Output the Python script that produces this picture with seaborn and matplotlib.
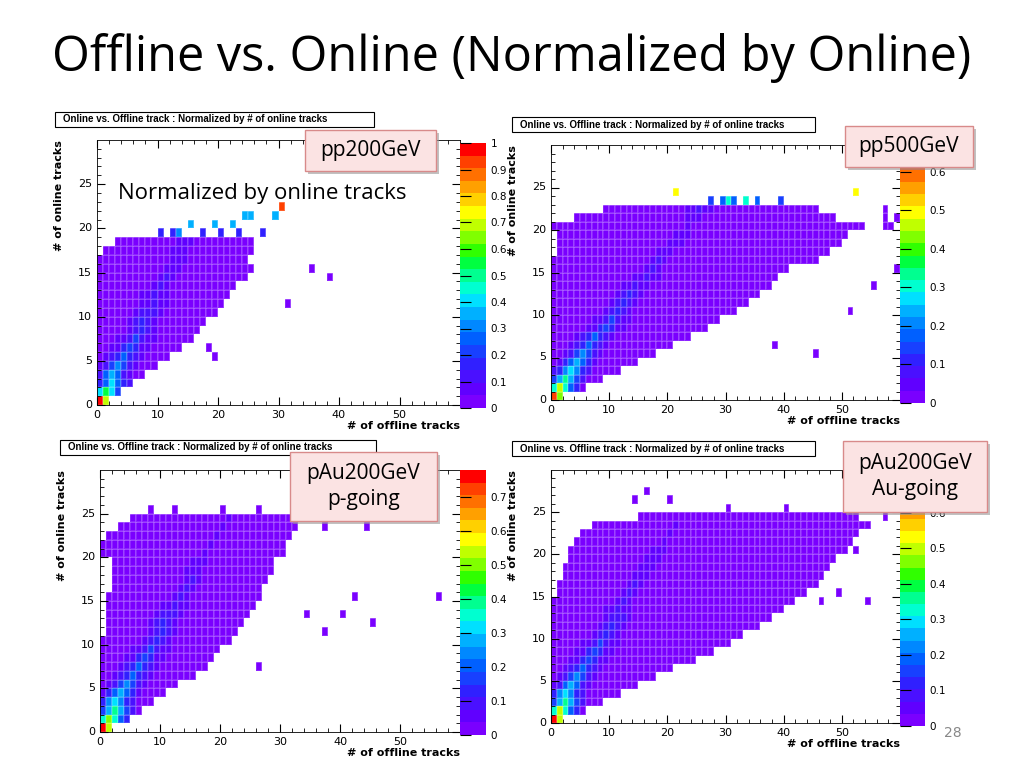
import numpy as np
import matplotlib
matplotlib.use("Agg")
import matplotlib.pyplot as plt
from matplotlib.colors import ListedColormap
from matplotlib.patches import FancyBboxPatch
import seaborn as sns

# per online-row (0,1,2,...) : first / last offline bin filled, peak bin, peak value
pp200_lo = [0, 0, 0, 0, 0, 0, 0, 0, 0, 0, 0, 0, 0, 0, 0, 0, 0, 1, 3]
pp200_hi = [1, 3, 5, 7, 9, 11, 13, 15, 16, 17, 19, 20, 21, 22, 24, 25, 24, 25, 25]
pp200_pk = [0, 1, 2, 2, 3, 4, 5, 6, 7, 7, 8, 9, 9, 10, 11, 12, 13, 13, 14]
pp200_pv = [1.0, .55, .4, .35, .3, .25, .22, .2, .18, .16, .14, .13, .12, .11, .1, .09, .08, .08, .07]
pp200_extra = [(10, 19, .15), (12, 19, .15), (13, 19, .3), (17, 19, .15), (20, 19, .15),
               (23, 19, .15), (27, 19, .15), (15, 20, .35), (19, 20, .35), (22, 20, .35),
               (24, 21, .35), (25, 21, .35), (29, 21, .35), (30, 22, .95),
               (35, 15, .03), (38, 14, .03), (31, 11, .03), (18, 6, .03), (19, 5, .03)]

pp500_lo = [0, 0, 0, 0, 0, 0, 0, 0, 0, 0, 0, 0, 0, 0, 0, 0, 0, 1, 1, 1, 0, 4, 9]
pp500_hi = [1, 5, 8, 11, 14, 17, 20, 23, 26, 28, 31, 33, 35, 37, 38, 40, 45, 47, 49, 50, 53, 48, 45]
pp500_pk = [0, 1, 2, 3, 4, 5, 6, 7, 9, 10, 11, 12, 13, 14, 16, 17, 18, 19, 21, 22, 23, 24, 25]
pp500_pv = [.62, .45, .33, .28, .24, .2, .18, .16, .15, .13, .12, .1, .1, .09, .08, .07, .07, .06, .05, .05, .04, .06, .08]
pp500_extra = [(27, 23, .15), (29, 23, .18), (30, 23, .3), (31, 23, .18), (33, 23, .3),
               (35, 23, .18), (39, 23, .15), (21, 24, .48), (52, 24, .48),
               (59, 15, .03), (55, 13, .03), (51, 10, .03), (38, 6, .03), (45, 5, .03),
               (57, 20, .03), (58, 20, .03), (57, 21, .03), (59, 21, .03), (57, 22, .03)]

pau_p_lo = [0, 0, 0, 0, 0, 0, 0, 0, 0, 0, 0, 1, 1, 1, 1, 1, 2, 2, 2, 2, 0, 0, 1, 3, 5]
pau_p_hi = [1, 4, 6, 8, 10, 12, 15, 17, 18, 19, 21, 22, 23, 24, 25, 26, 26, 27, 28, 28, 30, 30, 31, 32, 32]
pau_p_pk = [0, 1, 2, 2, 3, 4, 5, 6, 7, 8, 9, 10, 10, 11, 12, 13, 14, 15, 15, 16, 17, 18, 19, 20, 21]
pau_p_pv = [.78, .5, .4, .33, .28, .24, .21, .19, .17, .15, .14, .13, .12, .11, .1, .09, .08, .08, .07, .06, .05, .05, .04, .04, .04]
pau_p_extra = [(8, 25, .03), (12, 25, .03), (20, 25, .03), (26, 25, .03), (33, 25, .03),
               (44, 26, .03), (46, 26, .03), (44, 23, .03), (37, 23, .03),
               (42, 15, .03), (56, 15, .03), (40, 13, .03), (45, 12, .03), (37, 11, .03),
               (34, 13, .03), (26, 7, .03)]

pau_au_lo = [0, 0, 0, 0, 0, 0, 0, 0, 0, 0, 0, 0, 0, 0, 0, 1, 1, 2, 2, 3, 3, 4, 5, 7, 15]
pau_au_hi = [1, 5, 8, 11, 14, 17, 20, 24, 27, 30, 32, 35, 37, 39, 41, 43, 45, 46, 47, 48, 50, 51, 52, 54, 52]
pau_au_pk = [0, 1, 2, 2, 3, 4, 5, 6, 7, 8, 9, 10, 11, 11, 12, 13, 14, 15, 16, 17, 18, 19, 20, 21, 22]
pau_au_pv = [.72, .48, .36, .3, .25, .22, .19, .17, .15, .14, .12, .11, .1, .09, .08, .08, .07, .06, .06, .05, .05, .04, .04, .04, .03]
pau_au_extra = [(58, 25, .03), (55, 25, .03), (40, 25, .03), (30, 25, .03), (16, 27, .03),
                (14, 26, .03), (20, 26, .03), (46, 14, .03), (54, 14, .03), (49, 15, .03),
                (52, 20, .03), (57, 24, .03)]

rainbow = ['#7a00ff', '#6000ff', '#4a10ff', '#3020ff', '#1840ff', '#0060ff', '#0088ff',
           '#00b0ff', '#00e0ff', '#00ffd0', '#00ff90', '#00ff40', '#30ff00', '#80ff00',
           '#c0ff00', '#ffff00', '#ffd000', '#ffa000', '#ff7000', '#ff4000', '#ff0000']
cmap = ListedColormap(rainbow)

W, H = 1024, 768


def rect(l, t, r, b):
    return [l / W, 1 - b / H, (r - l) / W, (b - t) / H]


def build(lo, hi, pk, pv, extra, vmax):
    z = np.full((30, 60), np.nan)
    for y in range(len(lo)):
        z[y, lo[y]:hi[y] + 1] = 0.015 * vmax / 0.7
        for d, f in ((-3, .25), (-2, .4), (-1, .7), (1, .7), (2, .4), (3, .25)):
            x = pk[y] + d
            if lo[y] <= x <= hi[y]:
                z[y, x] = max(z[y, x], pv[y] * f)
        z[y, pk[y]] = pv[y]
    for x, y, v in extra:
        z[y, x] = v
    return z


panels = [
    (pp200_lo, pp200_hi, pp200_pk, pp200_pv, pp200_extra, 1.0,
     (97, 140, 460, 405), (460, 143, 486, 408), (55, 112, 374, 127), np.arange(0, 1.01, .1)),
    (pp500_lo, pp500_hi, pp500_pk, pp500_pv, pp500_extra, 0.67,
     (551, 145, 900, 400), (900, 145, 925, 403), (512, 117, 815, 132), np.arange(0, .61, .1)),
    (pau_p_lo, pau_p_hi, pau_p_pk, pau_p_pv, pau_p_extra, 0.78,
     (100, 470, 460, 732), (460, 470, 486, 735), (60, 440, 376, 455), np.arange(0, .71, .1)),
    (pau_au_lo, pau_au_hi, pau_au_pk, pau_au_pv, pau_au_extra, 0.72,
     (551, 470, 900, 723), (900, 470, 925, 726), (512, 441, 815, 456), np.arange(0, .61, .1)),
]

fig = plt.figure(figsize=(10.24, 7.68), dpi=100)
fig.text(0.5, 0.925, "Offline vs. Online (Normalized by Online)", ha='center', va='center',
         fontsize=35, family='Open Sans')

for lo, hi, pk, pv, extra, vmax, abox, cbox, tbox, cticks in panels:
    ax = fig.add_axes(rect(*abox))
    cax = fig.add_axes(rect(*cbox))
    z = build(lo, hi, pk, pv, extra, vmax)
    sns.heatmap(z, ax=ax, cbar_ax=cax, cmap=cmap, vmin=0, vmax=vmax,
                linewidths=0.2, linecolor=(1, 1, 1, 0.15))
    ax.invert_yaxis()
    ax.set_xlim(0, 60)
    ax.set_ylim(0, 30)
    ax.set_xticks(np.arange(0, 51, 10))
    ax.set_xticklabels([str(v) for v in range(0, 51, 10)], rotation=0)
    ax.set_yticks(np.arange(0, 26, 5))
    ax.set_yticklabels([str(v) for v in range(0, 26, 5)], rotation=0)
    ax.set_xticks(np.arange(0, 60, 2), minor=True)
    ax.set_yticks(np.arange(0, 30, 1), minor=True)
    ax.tick_params(direction='in', labelsize=8, length=6, top=True, right=True)
    ax.tick_params(which='minor', direction='in', length=3, top=True, right=True)
    for s in ax.spines.values():
        s.set_visible(True)
        s.set_linewidth(0.6)
    ax.set_xlabel("# of offline tracks", fontsize=8, fontweight='bold', loc='right', labelpad=1)
    ax.set_ylabel("# of online tracks", fontsize=8, fontweight='bold', loc='top', labelpad=10)
    cax.set_yticks(cticks)
    cax.set_yticklabels([f"{v:g}" for v in np.round(cticks, 1)])
    cax.tick_params(labelsize=7.5, direction='in', length=8, left=True, right=False)
    l, t, r, b = tbox
    fig.patches.append(plt.Rectangle((l / W, 1 - b / H), (r - l) / W, (b - t) / H,
                                     transform=fig.transFigure, facecolor='white',
                                     edgecolor='black', lw=0.8))
    fig.text((l + 8) / W, 1 - (t + b) / 2 / H, "Online vs. Offline track : Normalized by # of online tracks",
             fontsize=7, fontweight='bold', va='center', family='Liberation Sans')


def label_box(l, t, r, b, txt, fs=15):
    fig.patches.append(FancyBboxPatch((l / W + 0.003, 1 - b / H - 0.004), (r - l) / W, (b - t) / H,
                                      boxstyle='square,pad=0', transform=fig.transFigure,
                                      facecolor='#999999', edgecolor='none', alpha=0.6))
    fig.patches.append(FancyBboxPatch((l / W, 1 - b / H), (r - l) / W, (b - t) / H,
                                      boxstyle='square,pad=0', transform=fig.transFigure,
                                      facecolor='#fbe3e3', edgecolor='#d88a8a', lw=1))
    fig.text((l + r) / 2 / W, 1 - (t + b) / 2 / H, txt, ha='center', va='center',
             fontsize=fs, family='Open Sans', linespacing=1.3)


label_box(305, 130, 436, 171, "pp200GeV")
label_box(845, 126, 973, 167, "pp500GeV")
label_box(290, 452, 437, 521, "pAu200GeV\np-going")
label_box(843, 441, 987, 512, "pAu200GeV\nAu-going")
fig.text(118 / W, 1 - 193 / H, "Normalized by online tracks", fontsize=16, va='center', family='Open Sans')
fig.text(953 / W, 1 - 733 / H, "28", fontsize=10, color='#888888', ha='center', va='center')

fig.savefig("out.png", dpi=100)
